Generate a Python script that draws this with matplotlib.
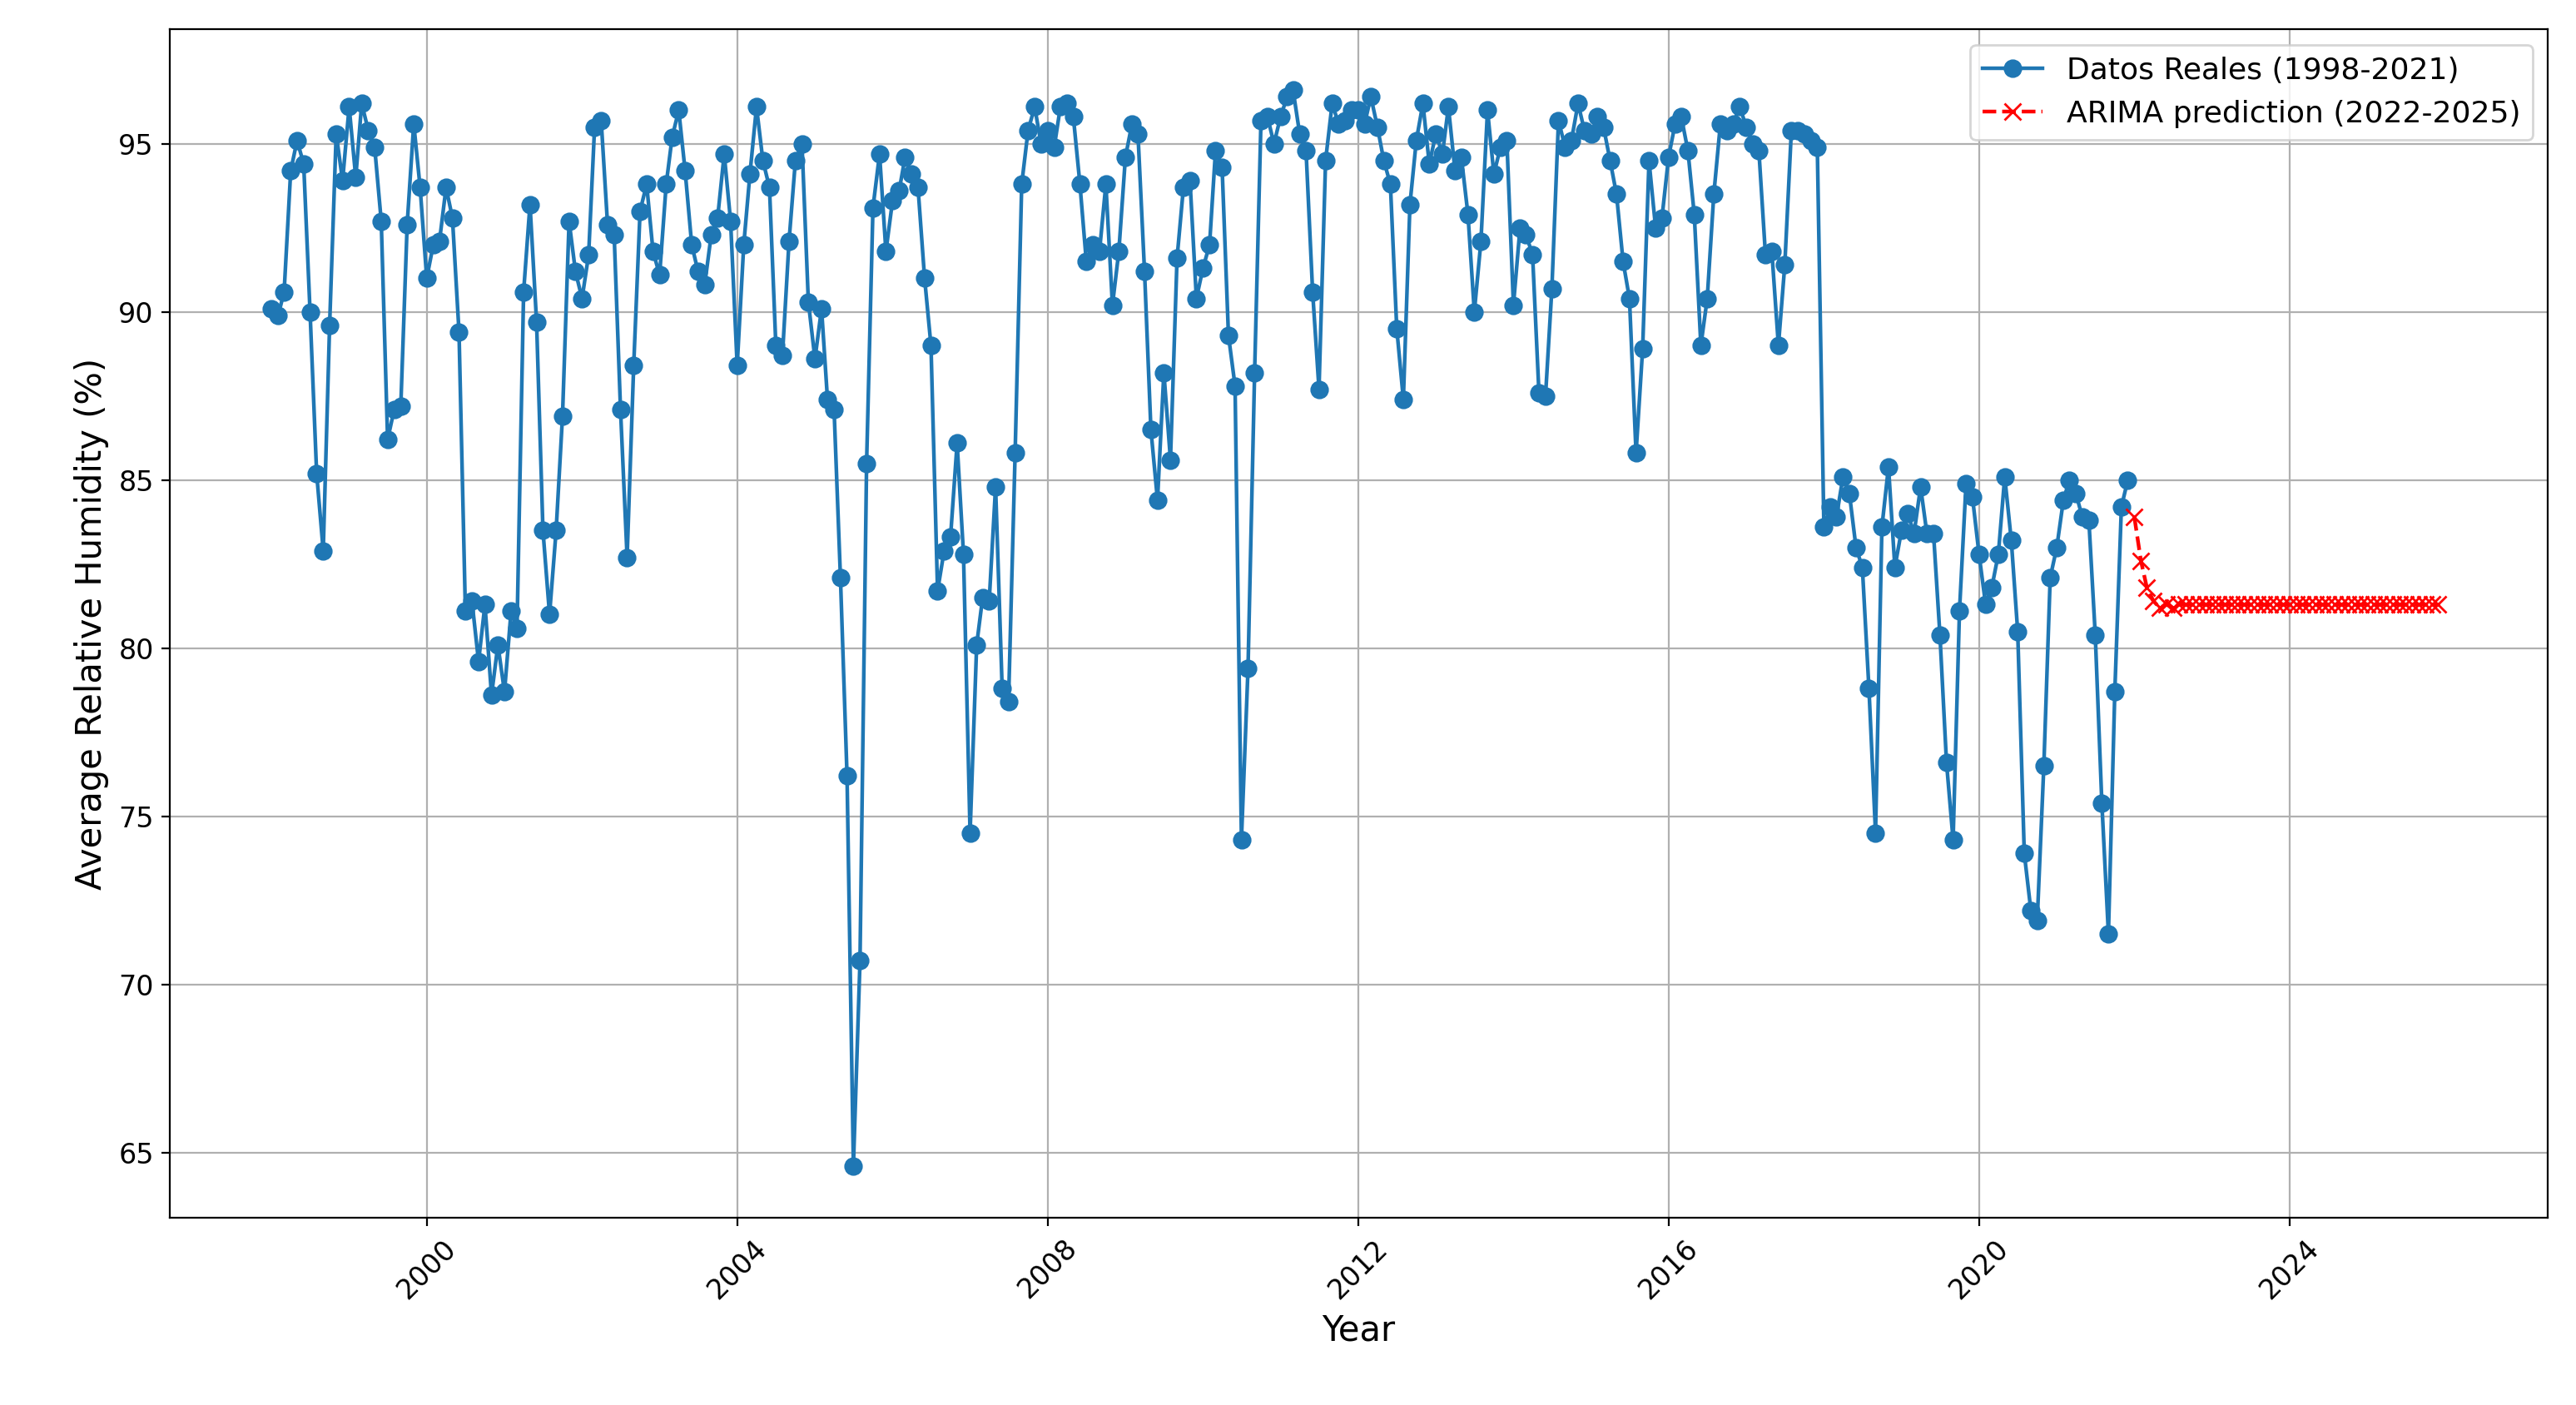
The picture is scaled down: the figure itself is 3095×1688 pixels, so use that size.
import numpy as np
import pandas as pd
import matplotlib
matplotlib.use("Agg")
import matplotlib.pyplot as plt
import matplotlib.dates as mdates

# monthly averages 1998-2021
y1998 = [90.1, 89.9, 90.6, 94.2, 95.1, 94.4, 90.0, 85.2, 82.9, 89.6, 95.3, 93.9]
y1999 = [96.1, 94.0, 96.2, 95.4, 94.9, 92.7, 86.2, 87.1, 87.2, 92.6, 95.6, 93.7]
y2000 = [91.0, 92.0, 92.1, 93.7, 92.8, 89.4, 81.1, 81.4, 79.6, 81.3, 78.6, 80.1]
y2001 = [78.7, 81.1, 80.6, 90.6, 93.2, 89.7, 83.5, 81.0, 83.5, 86.9, 92.7, 91.2]
y2002 = [90.4, 91.7, 95.5, 95.7, 92.6, 92.3, 87.1, 82.7, 88.4, 93.0, 93.8, 91.8]
y2003 = [91.1, 93.8, 95.2, 96.0, 94.2, 92.0, 91.2, 90.8, 92.3, 92.8, 94.7, 92.7]
y2004 = [88.4, 92.0, 94.1, 96.1, 94.5, 93.7, 89.0, 88.7, 92.1, 94.5, 95.0, 90.3]
y2005 = [88.6, 90.1, 87.4, 87.1, 82.1, 76.2, 64.6, 70.7, 85.5, 93.1, 94.7, 91.8]
y2006 = [93.3, 93.6, 94.6, 94.1, 93.7, 91.0, 89.0, 81.7, 82.9, 83.3, 86.1, 82.8]
y2007 = [74.5, 80.1, 81.5, 81.4, 84.8, 78.8, 78.4, 85.8, 93.8, 95.4, 96.1, 95.0]
y2008 = [95.4, 94.9, 96.1, 96.2, 95.8, 93.8, 91.5, 92.0, 91.8, 93.8, 90.2, 91.8]
y2009 = [94.6, 95.6, 95.3, 91.2, 86.5, 84.4, 88.2, 85.6, 91.6, 93.7, 93.9, 90.4]
y2010 = [91.3, 92.0, 94.8, 94.3, 89.3, 87.8, 74.3, 79.4, 88.2, 95.7, 95.8, 95.0]
y2011 = [95.8, 96.4, 96.6, 95.3, 94.8, 90.6, 87.7, 94.5, 96.2, 95.6, 95.7, 96.0]
y2012 = [96.0, 95.6, 96.4, 95.5, 94.5, 93.8, 89.5, 87.4, 93.2, 95.1, 96.2, 94.4]
y2013 = [95.3, 94.7, 96.1, 94.2, 94.6, 92.9, 90.0, 92.1, 96.0, 94.1, 94.9, 95.1]
y2014 = [90.2, 92.5, 92.3, 91.7, 87.6, 87.5, 90.7, 95.7, 94.9, 95.1, 96.2, 95.4]
y2015 = [95.3, 95.8, 95.5, 94.5, 93.5, 91.5, 90.4, 85.8, 88.9, 94.5, 92.5, 92.8]
y2016 = [94.6, 95.6, 95.8, 94.8, 92.9, 89.0, 90.4, 93.5, 95.6, 95.4, 95.6, 96.1]
y2017 = [95.5, 95.0, 94.8, 91.7, 91.8, 89.0, 91.4, 95.4, 95.4, 95.3, 95.1, 94.9]
y2018 = [83.6, 84.2, 83.9, 85.1, 84.6, 83.0, 82.4, 78.8, 74.5, 83.6, 85.4, 82.4]
y2019 = [83.5, 84.0, 83.4, 84.8, 83.4, 83.4, 80.4, 76.6, 74.3, 81.1, 84.9, 84.5]
y2020 = [82.8, 81.3, 81.8, 82.8, 85.1, 83.2, 80.5, 73.9, 72.2, 71.9, 76.5, 82.1]
y2021 = [83.0, 84.4, 85.0, 84.6, 83.9, 83.8, 80.4, 75.4, 71.5, 78.7, 84.2, 85.0]

real_values = (y1998 + y1999 + y2000 + y2001 + y2002 + y2003 + y2004 + y2005
               + y2006 + y2007 + y2008 + y2009 + y2010 + y2011 + y2012 + y2013
               + y2014 + y2015 + y2016 + y2017 + y2018 + y2019 + y2020 + y2021)

# ARIMA forecast 2022-2025
pred_values = [83.9, 82.6, 81.8, 81.4, 81.2, 81.3, 81.2] + [81.3] * 41

real_dates = pd.date_range("1998-01-01", periods=len(real_values), freq="MS")
pred_dates = pd.date_range("2022-01-01", periods=len(pred_values), freq="MS")

fig = plt.figure(figsize=(15.475, 8.44), dpi=200)
ax = fig.add_axes([0.066, 0.133, 0.923, 0.846])

ax.plot(real_dates, real_values, marker="o", color="#1f77b4", linewidth=1.6,
        markersize=7, label="Datos Reales (1998-2021)")
ax.plot(pred_dates, pred_values, marker="x", linestyle="--", color="red",
        linewidth=1.6, markersize=7, label="ARIMA prediction (2022-2025)")

ax.set_xlim(pd.Timestamp("1996-09-10"), pd.Timestamp("2027-04-30"))
ax.set_ylim(63.05, 98.4)
ax.xaxis.set_major_locator(mdates.YearLocator(4))
ax.xaxis.set_major_formatter(mdates.DateFormatter("%Y"))
ax.tick_params(axis="both", labelsize=12)
plt.setp(ax.get_xticklabels(), rotation=45)
ax.set_xlabel("Year", fontsize=15)
ax.set_ylabel("Average Relative Humidity (%)", fontsize=15)
ax.grid(True)
ax.legend(loc="upper right", fontsize=13)

fig.savefig("out.png", dpi=200)
